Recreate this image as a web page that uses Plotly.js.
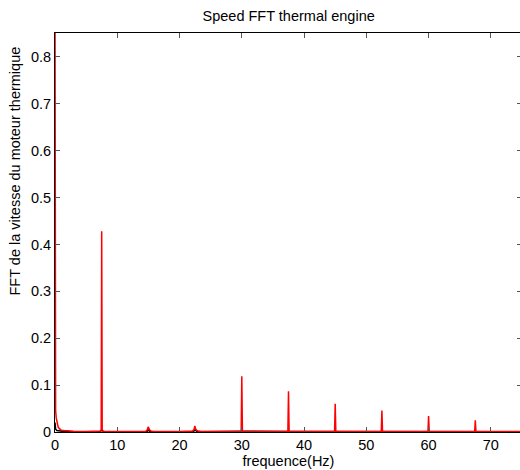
<!DOCTYPE html>
<html>
<head>
<meta charset="utf-8">
<script src="https://cdn.plot.ly/plotly-3.0.1.min.js"></script>
<style>
html,body{margin:0;padding:0;overflow:hidden;background:#fff;}
#chart{width:522px;height:470px;}
</style>
</head>
<body>
<div id="chart"></div>
<script>
// Red series: FFT amplitude vs frequency (Hz)
var redFreq = [0, 0.05, 0.1, 0.2, 0.3, 0.5, 0.7, 1.0, 1.5, 2, 3, 5, 7, 7.3, 7.42, 7.5, 7.58, 7.7, 8, 10,
  14.5, 14.8, 14.95, 15.05, 15.2, 15.5, 16, 20, 22.1, 22.35, 22.45, 22.55, 22.7, 23.0, 23.5, 27,
  29.9, 30, 30.1, 33, 37.4, 37.5, 37.6, 41, 44.9, 45, 45.1, 49, 52.4, 52.5, 52.6, 56,
  59.9, 60, 60.1, 64, 67.4, 67.5, 67.6, 71, 75];
var redAmp = [0.9, 0.07, 0.045, 0.03, 0.02, 0.011, 0.007, 0.004, 0.003, 0.002, 0.0015, 0.001, 0.0012, 0.002, 0.005, 0.428, 0.005, 0.002, 0.0012, 0.001,
  0.001, 0.004, 0.011, 0.009, 0.004, 0.0015, 0.001, 0.001, 0.002, 0.006, 0.013, 0.008, 0.004, 0.002, 0.001, 0.001,
  0.001, 0.119, 0.001, 0.001, 0.001, 0.087, 0.001, 0.001, 0.001, 0.060, 0.001, 0.001, 0.001, 0.046, 0.001, 0.001,
  0.001, 0.034, 0.001, 0.001, 0.001, 0.025, 0.001, 0.001, 0.001];

// Black series: secondary spectrum (low values)
var blackFreq = [0, 0.1, 0.3, 0.8, 1.5, 2.0, 7.2, 7.5, 7.8, 14.7, 15, 15.3, 22.2, 22.5, 22.8, 30, 37.5, 45, 75];
var blackAmp = [0.02, 0.006, 0.003, 0.002, 0.0015, 0.0003, 0.0003, 0.004, 0.0003, 0.0003, 0.004, 0.0003, 0.0003, 0.005, 0.0003, 0.0015, 0.001, 0.0008, 0.0003];

var xTicks = [0, 10, 20, 30, 40, 50, 60, 70];
var yTicks = [0, 0.1, 0.2, 0.3, 0.4, 0.5, 0.6, 0.7, 0.8];

var FONT = 'Liberation Sans, Arial, sans-serif';
var FS = 14.5;

var traces = [
  {x: blackFreq, y: blackAmp, type: 'scatter', mode: 'lines', line: {color: '#000000', width: 1.5}, hoverinfo: 'skip'},
  {x: redFreq, y: redAmp, type: 'scatter', mode: 'lines', line: {color: '#ff0000', width: 1.5}, hoverinfo: 'skip'}
];

var axisCommon = {
  showgrid: false, zeroline: false, showline: true, linecolor: '#000', linewidth: 1,
  mirror: 'ticks', ticks: 'inside', ticklen: 5, tickcolor: '#555', tickwidth: 1,
  tickfont: {family: FONT, size: FS, color: '#000'}
};

var layout = {
  width: 522, height: 470,
  margin: {l: 55, r: 0, t: 33, b: 38},
  paper_bgcolor: '#fff', plot_bgcolor: '#fff',
  showlegend: false,
  title: {text: 'Speed FFT thermal engine', font: {family: FONT, size: FS, color: '#000'}, x: 0.553, xanchor: 'center', y: 0.966, yanchor: 'middle'},
  xaxis: Object.assign({}, axisCommon, {range: [0, 75], tickvals: xTicks, ticktext: xTicks.map(String),
    title: {text: 'frequence(Hz)', font: {family: FONT, size: FS, color: '#000'}, standoff: 2}}),
  yaxis: Object.assign({}, axisCommon, {range: [0, 0.851], tickvals: yTicks, ticktext: yTicks.map(String)}),
  annotations: [{
    text: 'FFT de la vitesse du moteur thermique', xref: 'paper', yref: 'paper',
    x: -0.086, y: 0.655, xanchor: 'center', yanchor: 'middle', textangle: -90, showarrow: false,
    font: {family: FONT, size: FS, color: '#000'}
  }]
};

Plotly.newPlot('chart', traces, layout, {displayModeBar: false, staticPlot: true});
</script>
</body>
</html>
